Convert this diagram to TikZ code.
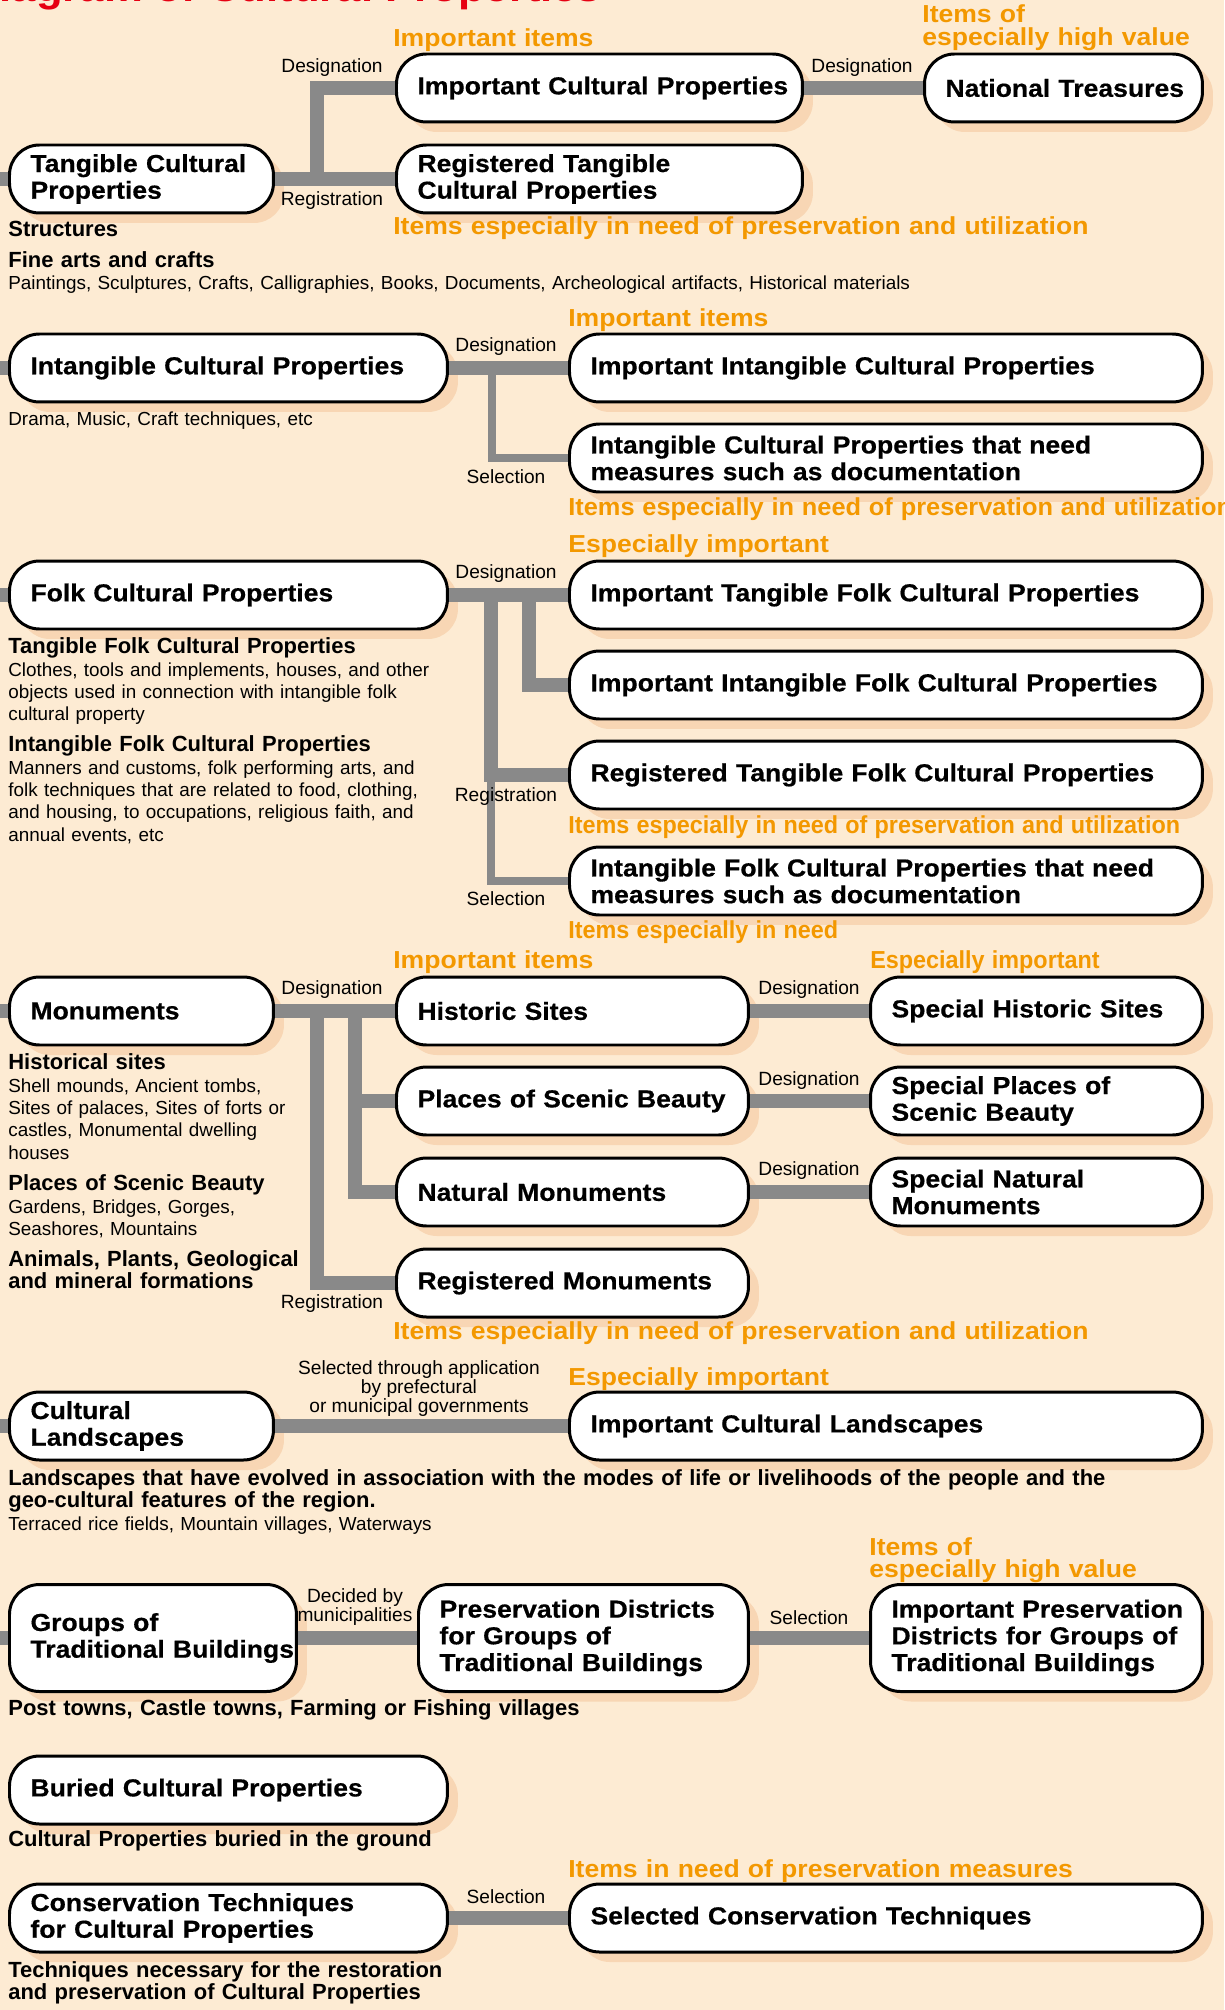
\documentclass[tikz,border=0pt]{standalone}
\usepackage{fontspec}
\setmainfont{Liberation Sans}
\newfontfamily\boxfont[FakeStretch=1.08]{Liberation Sans}
\newfontfamily\heavyfont[FakeStretch=1.08,FakeBold=0.5]{Liberation Sans}
\usepackage{graphicx}
\usepackage{tikz}
\usetikzlibrary{positioning,shadows,calc}
\definecolor{PaperPeach}{RGB}{253,235,211}
\definecolor{ShadowPeach}{RGB}{248,214,180}
\definecolor{LinkGray}{RGB}{137,137,137}
\definecolor{NoteOrange}{RGB}{243,152,0}
\definecolor{TitleRed}{RGB}{230,0,18}
\newcommand{\narrowtext}[2][0.88]{\scalebox{#1}[1]{#2}}
\tikzset{
  propbox/.style={draw=black,fill=white,line width=1.7pt,rounded corners=0.6cm,
    minimum height=1.36cm,inner xsep=0pt,text width=#1,align=left,anchor=west,
    font=\heavyfont\fontsize{14}{15.2}\selectfont\bfseries,
    execute at begin node={\leftskip=0.42cm\rightskip=-2cm plus 1fil},
    drop shadow={shadow xshift=0.21cm,shadow yshift=-0.2cm,fill=ShadowPeach,opacity=1}},
  tallbox/.style={propbox=#1,minimum height=2.14cm},
  link/.style={draw=LinkGray,line width=0.28cm},
  thinlink/.style={draw=LinkGray,line width=0.16cm},
  linklabel/.style={font=\fontsize{10.9}{10.8}\selectfont,align=center,inner sep=0pt},
  rank/.style={anchor=base west,text=NoteOrange,inner sep=0pt,text width=16cm,align=left,
    font=\boxfont\fontsize{14}{13}\selectfont\bfseries},
  note/.style={anchor=base west,inner sep=0pt,text width=23cm,align=left,
    font=\fontsize{10.75}{12.8}\selectfont},
  notehead/.style={note,font=\fontsize{12.5}{12.8}\selectfont\bfseries}
}

\begin{document}
\begin{tikzpicture}[x=0.02cm,y=-0.02cm]
  \useasboundingbox (0,0) rectangle (1224,2010);
  \fill[PaperPeach] (0,0) rectangle (1224,2010);
  \clip (0,0) rectangle (1224,2010);
  \coordinate (spine) at (0,0);

  \node[anchor=base west,text=TitleRed,inner sep=0pt,
    font=\boxfont\fontsize{23}{25}\selectfont\bfseries] (title) at (-32,2) {Diagram of Cultural Properties};

  % tangible
  \node[propbox=5.28cm] (tcp) at (8,179) {Tangible Cultural\\Properties};
  \node[propbox=8.12cm] (icp) at (395,88) {Important Cultural Properties};
  \node[propbox=8.12cm] (rtcp) at (395,179) {Registered Tangible\\Cultural Properties};
  \node[propbox=5.56cm] (nt) at (923,88) {National Treasures};
  % intangible
  \node[propbox=8.76cm] (intcp) at (8,368) {Intangible Cultural Properties};
  \node[propbox=12.66cm] (iicp) at (568,368) {Important Intangible Cultural Properties};
  \node[propbox=12.66cm] (icpm) at (568,458) {Intangible Cultural Properties that need\\measures such as documentation};
  % folk
  \node[propbox=8.76cm] (fcp) at (8,595) {Folk Cultural Properties};
  \node[propbox=12.66cm] (itfcp) at (568,595) {Important Tangible Folk Cultural Properties};
  \node[propbox=12.66cm] (iifcp) at (568,685) {Important Intangible Folk Cultural Properties};
  \node[propbox=12.66cm] (rtfcp) at (568,775) {Registered Tangible Folk Cultural Properties};
  \node[propbox=12.66cm] (ifcpm) at (568,881) {Intangible Folk Cultural Properties that need\\measures such as documentation};
  % monuments
  \node[propbox=5.28cm] (mon) at (8,1011) {Monuments};
  \node[propbox=7.04cm] (hs) at (395,1011) {Historic Sites};
  \node[propbox=7.04cm] (psb) at (395,1101) {Places of Scenic Beauty};
  \node[propbox=7.04cm] (nm) at (395,1192) {Natural Monuments};
  \node[propbox=7.04cm] (rm) at (395,1283) {Registered Monuments};
  \node[propbox=6.64cm] (shs) at (869,1011) {Special Historic Sites};
  \node[propbox=6.64cm] (spsb) at (869,1101) {Special Places of\\Scenic Beauty};
  \node[propbox=6.64cm] (snm) at (869,1192) {Special Natural\\Monuments};
  % landscapes, buildings, buried, techniques
  \node[propbox=5.28cm] (cl) at (8,1426) {Cultural\\Landscapes};
  \node[propbox=12.66cm] (icl) at (568,1426) {Important Cultural Landscapes};
  \node[tallbox=5.74cm] (gtb) at (8,1638) {Groups of\\Traditional Buildings};
  \node[tallbox=6.6cm] (pdgtb) at (417,1638) {Preservation Districts\\for Groups of\\Traditional Buildings};
  \node[tallbox=6.64cm] (ipdgtb) at (869,1638) {Important Preservation\\Districts for Groups of\\Traditional Buildings};
  \node[propbox=8.76cm] (bcp) at (8,1790) {Buried Cultural Properties};
  \node[propbox=8.76cm] (ctcp) at (8,1918) {Conservation Techniques\\for Cultural Properties};
  \node[propbox=12.66cm] (sct) at (568,1918) {Selected Conservation Techniques};

  \coordinate (tsplit) at (317,179);
  \coordinate (isplit) at (492,368);
  \coordinate (fsplitA) at (491,595);
  \coordinate (fsplitB) at (529,595);
  \coordinate (msplitA) at (317,1011);
  \coordinate (msplitB) at (355,1011);

  \foreach \n in {tcp,intcp,fcp,mon,cl,gtb}
    \draw[link] (\n.west) -- (\n.west -| spine);

  \draw[link] (tcp.east) -- (rtcp.west);
  \draw[link] (tsplit) |- (icp.west);
  \draw[link] (icp.east) -- (nt.west);

  \draw[link] (intcp.east) -- (iicp.west);
  \draw[thinlink] (isplit) |- (icpm.west);

  \draw[link] (fcp.east) -- (itfcp.west);
  \draw[link] (fsplitB) |- (iifcp.west);
  \draw[link] (fsplitA) |- (rtfcp.west);
  \draw[thinlink] (fsplitA |- rtfcp.west) |- (ifcpm.west);

  \draw[link] (mon.east) -- (hs.west);
  \draw[link] (msplitA) |- (rm.west);
  \draw[link] (msplitB) |- (nm.west);
  \draw[link] (msplitB |- psb.west) -- (psb.west);
  \draw[link] (hs.east) -- (shs.west);
  \draw[link] (psb.east) -- (spsb.west);
  \draw[link] (nm.east) -- (snm.west);

  \draw[link] (cl.east) -- (icl.west);
  \draw[link] (gtb.east) -- (pdgtb.west);
  \draw[link] (pdgtb.east) -- (ipdgtb.west);
  \draw[link] (ctcp.east) -- (sct.west);

  \node[linklabel] at (332,68) {Designation};
  \node[linklabel] at (332,201) {Registration};
  \node[linklabel] at (862,68) {Designation};
  \node[linklabel] at (506,347) {Designation};
  \node[linklabel] at (506,477) {Selection};
  \node[linklabel] at (506,574) {Designation};
  \node[linklabel] at (506,797) {Registration};
  \node[linklabel] at (506,899) {Selection};
  \node[linklabel] at (332,990) {Designation};
  \node[linklabel] at (332,1304) {Registration};
  \node[linklabel] at (809,990) {Designation};
  \node[linklabel] at (809,1081) {Designation};
  \node[linklabel] at (809,1171) {Designation};
  \node[linklabel] at (419,1389) {Selected through application\\by prefectural\\or municipal governments};
  \node[linklabel] at (355,1607) {Decided by\\municipalities};
  \node[linklabel] at (809,1618) {Selection};
  \node[linklabel] at (506,1897) {Selection};

  \node[rank] at (393,47) {Important items};
  \node[rank] at (922,23) {Items of\\especially high value};
  \node[rank] at (393,235) {Items especially in need of preservation and utilization};
  \node[rank] at (568,327) {Important items};
  \node[rank] at (568,515) {\narrowtext[0.955]{Items especially in need of preservation and utilization}};
  \node[rank] at (568,552) {Especially important};
  \node[rank] at (568,833) {\narrowtext{Items especially in need of preservation and utilization}};
  \node[rank] at (568,938) {\narrowtext{Items especially in need}};
  \node[rank] at (393,968) {Important items};
  \node[rank] at (870,968) {\narrowtext{Especially important}};
  \node[rank] at (393,1339) {Items especially in need of preservation and utilization};
  \node[rank] at (568,1385) {Especially important};
  \node[rank] at (869,1555) {Items of\\especially high value};
  \node[rank] at (568,1877) {Items in need of preservation measures};

  \node[notehead] at (8,237) {Structures};
  \node[notehead] at (8,268) {Fine arts and crafts};
  \node[note] at (8,290) {Paintings, Sculptures, Crafts, Calligraphies, Books, Documents, Archeological artifacts, Historical materials};
  \node[note] at (8,425) {Drama, Music, Craft techniques, etc};
  \node[notehead] at (8,653) {Tangible Folk Cultural Properties};
  \node[note] at (8,676) {Clothes, tools and implements, houses, and other\\objects used in connection with intangible folk\\cultural property};
  \node[notehead] at (8,751) {Intangible Folk Cultural Properties};
  \node[note] at (8,774) {Manners and customs, folk performing arts, and\\folk techniques that are related to food, clothing,\\and housing, to occupations, religious faith, and\\annual events, etc};
  \node[notehead] at (8,1069) {Historical sites};
  \node[note] at (8,1092) {Shell mounds, Ancient tombs,\\Sites of palaces, Sites of forts or\\castles, Monumental dwelling\\houses};
  \node[notehead] at (8,1190) {Places of Scenic Beauty};
  \node[note] at (8,1213) {Gardens, Bridges, Gorges,\\Seashores, Mountains};
  \node[notehead] at (8,1266) {Animals, Plants, Geological\\and mineral formations};
  \node[notehead] at (8,1485) {Landscapes that have evolved in association with the modes of life or livelihoods of the people and the\\geo-cultural features of the region.};
  \node[note] at (8,1530) {Terraced rice fields, Mountain villages, Waterways};
  \node[notehead] at (8,1715) {Post towns, Castle towns, Farming or Fishing villages};
  \node[notehead] at (8,1846) {Cultural Properties buried in the ground};
  \node[notehead] at (8,1977) {Techniques necessary for the restoration\\and preservation of Cultural Properties};
\end{tikzpicture}
\end{document}
